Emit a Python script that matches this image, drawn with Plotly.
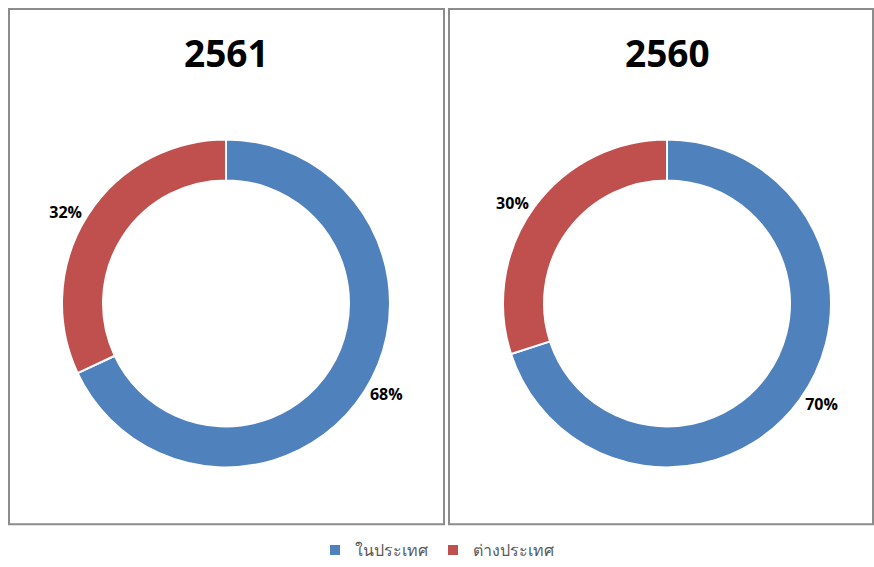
import plotly.graph_objects as go

W, H = 874, 567
labels = ["ในประเทศ", "ต่างประเทศ"]
values_2561 = [68, 32]
values_2560 = [70, 30]
titles = ["2561", "2560"]
colors = ["#4F81BD", "#C0504D"]

def px_x(x):
    return x / W

def px_y(y):
    return 1 - y / H

fig = go.Figure()
for vals, (x0, x1), show in [(values_2561, (62, 390), True), (values_2560, (503, 831), False)]:
    fig.add_trace(go.Pie(
        labels=labels, values=vals, hole=0.75, sort=False, direction="clockwise",
        rotation=0,
        marker=dict(colors=colors, line=dict(color="white", width=2)),
        textinfo="percent", texttemplate="<b>%{percent:.0%}</b>", textposition="outside",
        outsidetextfont=dict(size=16, color="black", family="Open Sans"),
        domain=dict(x=[px_x(x0), px_x(x1)], y=[px_y(470), px_y(140)]),
        showlegend=show, hoverinfo="label+percent",
    ))

for t, cx in zip(titles, [226, 667]):
    fig.add_annotation(text="<b>%s</b>" % t, x=px_x(cx), y=px_y(53), xref="paper", yref="paper",
                       showarrow=False, font=dict(size=37, color="black", family="Open Sans"),
                       xanchor="center", yanchor="middle")

for (a, b) in [(9, 444), (449, 873)]:
    fig.add_shape(type="rect", xref="paper", yref="paper",
                  x0=px_x(a), x1=px_x(b), y0=px_y(527), y1=px_y(9),
                  line=dict(color="#8c8c8c", width=2), fillcolor="rgba(0,0,0,0)")

fig.update_layout(
    width=W, height=H, margin=dict(l=0, r=0, t=0, b=0),
    paper_bgcolor="white", plot_bgcolor="white",
    legend=dict(orientation="h", x=0.5, xanchor="center", y=px_y(553), yanchor="middle",
                font=dict(size=16, color="#595959"), traceorder="normal", itemwidth=30),
)
fig.write_html("out.html", config={"displayModeBar": False},
               post_script="document.body.style.margin='0px';document.body.style.overflow='hidden';")
